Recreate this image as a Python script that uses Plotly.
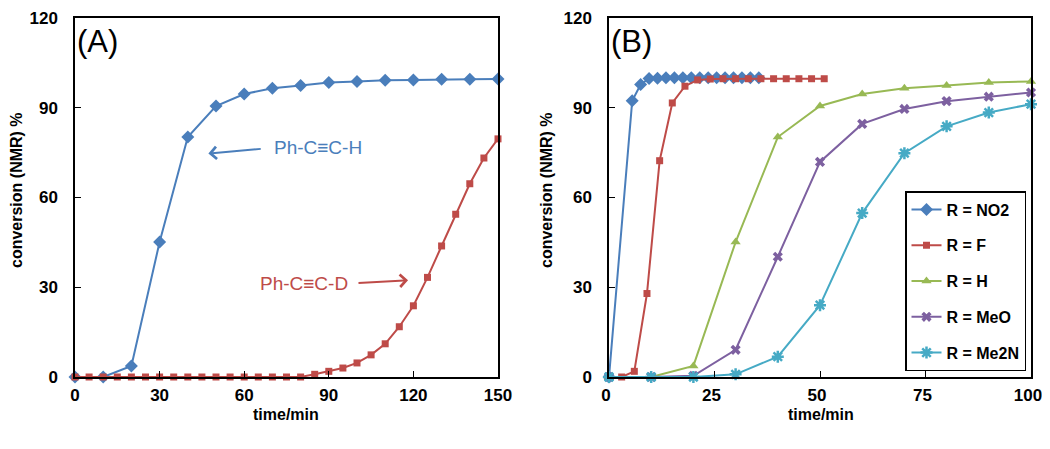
import plotly.graph_objects as go

# ---------------- data ----------------
# Panel A
a_h_time = [0, 10, 20, 30, 40, 50, 60, 70, 80, 90, 100, 110, 120, 130, 140, 150]
a_h_conv = [0, 0, 3.7, 45.1, 80.2, 90.6, 94.6, 96.5, 97.4, 98.4, 98.8, 99.2, 99.3, 99.5, 99.5, 99.6]

a_d_time = list(range(0, 151, 5))
a_d_conv = [0, 0, 0, 0, 0, 0, 0, 0, 0, 0, 0, 0, 0, 0, 0, 0, 0,
            0.9, 1.9, 3.0, 4.7, 7.4, 11.1, 16.8, 23.8, 33.3, 43.8, 54.4, 64.6, 73.2, 79.6]

# Panel B
b_no2_time = [0, 5.5, 7.5, 9.5, 11.5, 13.5, 15.5, 17.5, 19.5, 21.5, 23.5, 25.5, 27.5, 29.5, 31.5, 33.5, 35.5]
b_no2_conv = [0, 92.3, 97.8, 99.8, 99.9, 100, 100, 100, 100, 100, 100, 100, 100, 100, 100, 100, 100]

b_f_time = [0, 3, 6, 9, 12, 15, 18, 21, 24, 27, 30, 33, 36, 39, 42, 45, 48, 51]
b_f_conv = [0, 0, 1.9, 27.9, 72.3, 91.6, 97.2, 99.3, 99.6, 99.7, 99.7, 99.7, 99.7, 99.7, 99.7, 99.7, 99.7, 99.7]

b_time = [0, 10, 20, 30, 40, 50, 60, 70, 80, 90, 100]
b_h_conv = [0, 0, 3.7, 45.1, 80.2, 90.6, 94.6, 96.5, 97.4, 98.4, 98.8]
b_meo_conv = [0, 0, 0.4, 9.1, 40.2, 71.9, 84.6, 89.6, 92.2, 93.7, 95.1]
b_me2n_conv = [0, 0, 0, 0.9, 6.8, 24.0, 54.8, 74.8, 83.8, 88.4, 91.2]

series_names = ["R = NO2", "R = F", "R = H", "R = MeO", "R = Me2N"]
y_ticks = [0, 30, 60, 90, 120]
a_x_ticks = [0, 30, 60, 90, 120, 150]
b_x_ticks = [0, 25, 50, 75, 100]

BLUE = "#4A7EBB"
RED = "#BE4B48"
GREEN = "#98B954"
PURPLE = "#7D60A0"
CYAN = "#46AAC5"

FONT = "Liberation Sans, Arial, sans-serif"

W, H = 1034, 433  # page adds 8px body margin on each side

def px(x):
    return x / W

def py(y_from_top):
    return (H - y_from_top) / H

fig = go.Figure()

# Panel A traces
fig.add_trace(go.Scatter(x=a_h_time, y=a_h_conv, mode="lines+markers",
                         line=dict(color=BLUE, width=2),
                         marker=dict(symbol="diamond", size=10, color=BLUE),
                         showlegend=False, cliponaxis=False, xaxis="x", yaxis="y"))
fig.add_trace(go.Scatter(x=a_d_time, y=a_d_conv, mode="lines+markers",
                         line=dict(color=RED, width=2),
                         marker=dict(symbol="square", size=7, color=RED),
                         showlegend=False, cliponaxis=False, xaxis="x", yaxis="y"))

# Panel B traces
b_specs = [
    (b_no2_time, b_no2_conv, BLUE, dict(symbol="diamond", size=10)),
    (b_f_time, b_f_conv, RED, dict(symbol="square", size=7)),
    (b_time, b_h_conv, GREEN, dict(symbol="triangle-up", size=9)),
    (b_time, b_meo_conv, PURPLE, dict(symbol="x", size=9)),
    (b_time, b_me2n_conv, CYAN, dict(symbol="asterisk-open", size=10, line=dict(width=2.5))),
]
for name, (xs, ys, col, mk) in zip(series_names, b_specs):
    m = dict(mk)
    m["color"] = col
    if "line" in m:
        m["line"] = dict(m["line"], color=col)
    fig.add_trace(go.Scatter(x=xs, y=ys, mode="lines+markers", name=name,
                             line=dict(color=col, width=2), marker=m,
                             legendgroup=name, cliponaxis=False,
                             xaxis="x2", yaxis="y2"))

Y_DOM = [py(369), py(10)]
axis_common = dict(showgrid=False, zeroline=False, showline=True, linecolor="black",
                   linewidth=1.5, mirror=True, ticks="inside", ticklen=6,
                   tickwidth=1.2, tickcolor="black", ticklabeloverflow="allow",
                   automargin=False,
                   tickfont=dict(family=FONT, size=17, color="black", weight="bold"))

fig.update_layout(
    width=W, height=H,
    margin=dict(l=0, r=0, t=0, b=0, autoexpand=False),
    paper_bgcolor="white", plot_bgcolor="white",
    xaxis=dict(domain=[px(67), px(490)], range=[0, 150], tickvals=a_x_ticks,
               anchor="y", ticklabelstandoff=2, **axis_common),
    yaxis=dict(domain=Y_DOM, range=[0, 120], tickvals=y_ticks, anchor="x",
               ticklabelstandoff=12, **axis_common),
    xaxis2=dict(domain=[px(601), px(1023)], range=[0, 100], tickvals=b_x_ticks,
                anchor="y2", ticklabelstandoff=2, ticklabelshift=-3, **axis_common),
    yaxis2=dict(domain=Y_DOM, range=[0, 120], tickvals=y_ticks, anchor="x2",
                ticklabelstandoff=12, **axis_common),
    legend=dict(x=px(897), y=py(183), xanchor="left", yanchor="top",
                bordercolor="black", borderwidth=1.5, bgcolor="white",
                font=dict(family=FONT, size=16, color="black", weight="bold"),
                tracegroupgap=12, itemwidth=30, traceorder="grouped"),
)

ann = []
# axis titles
for xc in [9, 539]:
    ann.append(dict(text="conversion (NMR) %", xref="paper", yref="paper",
                    x=px(xc), y=py(182), xanchor="center", yanchor="middle",
                    showarrow=False, textangle=-90,
                    font=dict(family=FONT, size=16, color="black", weight="bold")))
for xc in [278, 813]:
    ann.append(dict(text="time/min", xref="paper", yref="paper",
                    x=px(xc), y=py(406), xanchor="center", yanchor="middle",
                    showarrow=False,
                    font=dict(family=FONT, size=16, color="black", weight="bold")))
# panel labels
ann.append(dict(text="(A)", xref="x domain", yref="y domain", x=0.0, y=0.99,
                xanchor="left", yanchor="top", showarrow=False,
                font=dict(family=FONT, size=31, color="black")))
ann.append(dict(text="(B)", xref="x2 domain", yref="y2 domain", x=0.0, y=0.99,
                xanchor="left", yanchor="top", showarrow=False,
                font=dict(family=FONT, size=31, color="black")))
# series labels in panel A
ann.append(dict(text="Ph-C≡C-H", x=86, y=76.6, xref="x", yref="y", showarrow=False,
                font=dict(family=FONT, size=19, color=BLUE)))
ann.append(dict(text="", x=47.3, y=74.7, ax=66.4, ay=76.3, xref="x", yref="y",
                axref="x", ayref="y", showarrow=True, arrowhead=4, arrowsize=1.2,
                arrowwidth=2, arrowcolor=BLUE))
ann.append(dict(text="Ph-C≡C-D", x=81.3, y=31.4, xref="x", yref="y", showarrow=False,
                font=dict(family=FONT, size=19, color=RED)))
ann.append(dict(text="", x=118.1, y=32.3, ax=100, ay=31.4, xref="x", yref="y",
                axref="x", ayref="y", showarrow=True, arrowhead=4, arrowsize=1.2,
                arrowwidth=2, arrowcolor=RED))
fig.update_layout(annotations=ann)

fig.write_html("out.html")
